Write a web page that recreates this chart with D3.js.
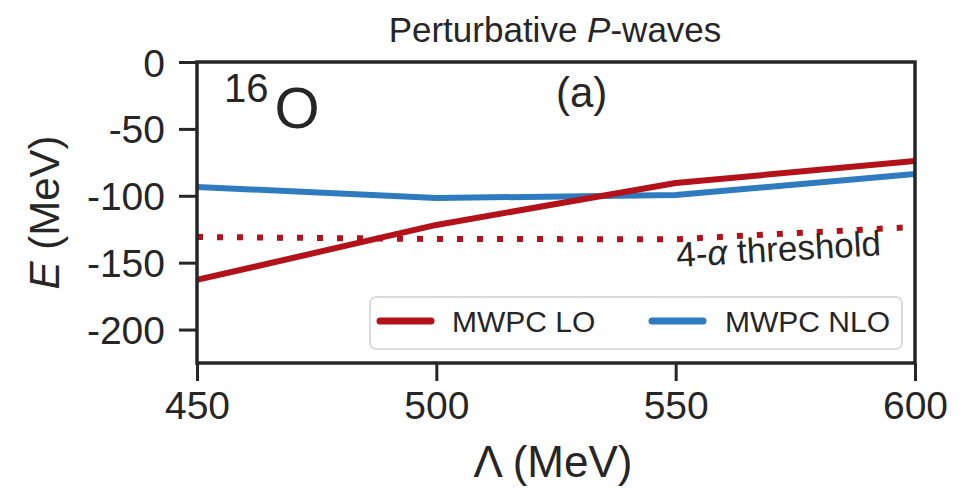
<!DOCTYPE html>
<html><head><meta charset="utf-8">
<script src="https://cdn.jsdelivr.net/npm/d3@7"></script>
<style>body{margin:0;background:#fff}text{font-family:"Liberation Sans",Arial,sans-serif;fill:#262626}</style>
</head><body>
<svg id="c" width="971" height="488"></svg>
<script>
const lambdas = [450, 500, 550, 600];
const mwpcLO = [-162.9, -121.8, -90.5, -74.0];
const mwpcNLO = [-93.4, -101.7, -99.4, -83.7];
const threshold = [-130.8, -132.3, -132.5, -123.3];
const xTicks = [450, 500, 550, 600];
const yTicks = [0, -50, -100, -150, -200];

const svg = d3.select("#c");
const L = 197, R = 915, T = 62, B = 363;
const x = d3.scaleLinear().domain([450, 600]).range([L, R]);
const y = d3.scaleLinear().domain([-225, 0]).range([B, T]);
const ink = "#262626";

svg.append("defs").append("clipPath").attr("id", "clip")
  .append("rect").attr("x", L).attr("y", T).attr("width", R - L).attr("height", B - T);

const line = d3.line().x((d, i) => x(lambdas[i])).y(d => y(d));
const plot = svg.append("g").attr("clip-path", "url(#clip)");
plot.append("path").datum(threshold).attr("d", line).attr("fill", "none")
  .attr("stroke", "#b3121b").attr("stroke-width", 6).attr("stroke-dasharray", "6,14");
plot.append("path").datum(mwpcNLO).attr("d", line).attr("fill", "none")
  .attr("stroke", "#2e7cbf").attr("stroke-width", 6).attr("stroke-linejoin", "round");
plot.append("path").datum(mwpcLO).attr("d", line).attr("fill", "none")
  .attr("stroke", "#b3121b").attr("stroke-width", 6).attr("stroke-linejoin", "round");

// axes
const fmt = d => String(d);
const xAxis = svg.append("g").attr("transform", `translate(0,${B})`)
  .call(d3.axisBottom(x).tickValues(xTicks).tickSize(18).tickPadding(10).tickFormat(fmt));
const yAxis = svg.append("g").attr("transform", `translate(${L},0)`)
  .call(d3.axisLeft(y).tickValues(yTicks).tickSize(18).tickPadding(14).tickFormat(fmt));
[xAxis, yAxis].forEach(a => {
  a.select(".domain").remove();
  a.selectAll(".tick line").attr("stroke", ink).attr("stroke-width", 3);
  a.selectAll(".tick text").attr("font-size", 39).attr("fill", ink)
    .style("font-family", '"Liberation Sans",Arial,sans-serif');
});
xAxis.selectAll(".tick text").attr("dy", "0.71em");
yAxis.selectAll(".tick text").attr("dy", "0.36em");

svg.append("rect").attr("x", L).attr("y", T).attr("width", R - L).attr("height", B - T)
  .attr("fill", "none").attr("stroke", ink).attr("stroke-width", 3.5);

// legend
const lg = svg.append("g");
lg.append("rect").attr("x", 370).attr("y", 297).attr("width", 532).attr("height", 52)
  .attr("rx", 6).attr("fill", "#fff").attr("fill-opacity", 0.8).attr("stroke", "#dcdcdc").attr("stroke-width", 2);
const items = [{name: "MWPC LO", color: "#b3121b", x0: 380, tx: 452},
               {name: "MWPC NLO", color: "#2e7cbf", x0: 652, tx: 725}];
items.forEach(it => {
  lg.append("line").attr("x1", it.x0).attr("x2", it.x0 + 51).attr("y1", 321).attr("y2", 321)
    .attr("stroke", it.color).attr("stroke-width", 7).attr("stroke-linecap", "round");
  lg.append("text").attr("x", it.tx).attr("y", 332).attr("font-size", 30).text(it.name);
});

// texts
const title = svg.append("text").attr("x", 555).attr("y", 42).attr("text-anchor", "middle").attr("font-size", 35);
title.append("tspan").text("Perturbative ");
title.append("tspan").attr("font-style", "italic").text("P");
title.append("tspan").text("-waves");

svg.append("text").attr("x", 553).attr("y", 477).attr("text-anchor", "middle").attr("font-size", 44).text("Λ (MeV)");
const yl = svg.append("text").attr("transform", `translate(59,${(T + B) / 2}) rotate(-90)`)
  .attr("text-anchor", "middle").attr("font-size", 42);
yl.append("tspan").attr("font-style", "italic").text("E");
yl.append("tspan").text(" (MeV)");

const iso = svg.append("text").attr("x", 224).attr("y", 128);
iso.append("tspan").attr("font-size", 40).attr("dy", -26).text("16");
iso.append("tspan").attr("font-size", 58).attr("dy", 26).attr("dx", 6).text("O");

svg.append("text").attr("x", 556).attr("y", 107).attr("font-size", 42).text("(a)");

const th = svg.append("text").attr("transform", "translate(677,267) rotate(-3.3)").attr("font-size", 35);
th.append("tspan").text("4-");
th.append("tspan").attr("font-style", "italic").text("α");
th.append("tspan").text(" threshold");
</script>
</body></html>
